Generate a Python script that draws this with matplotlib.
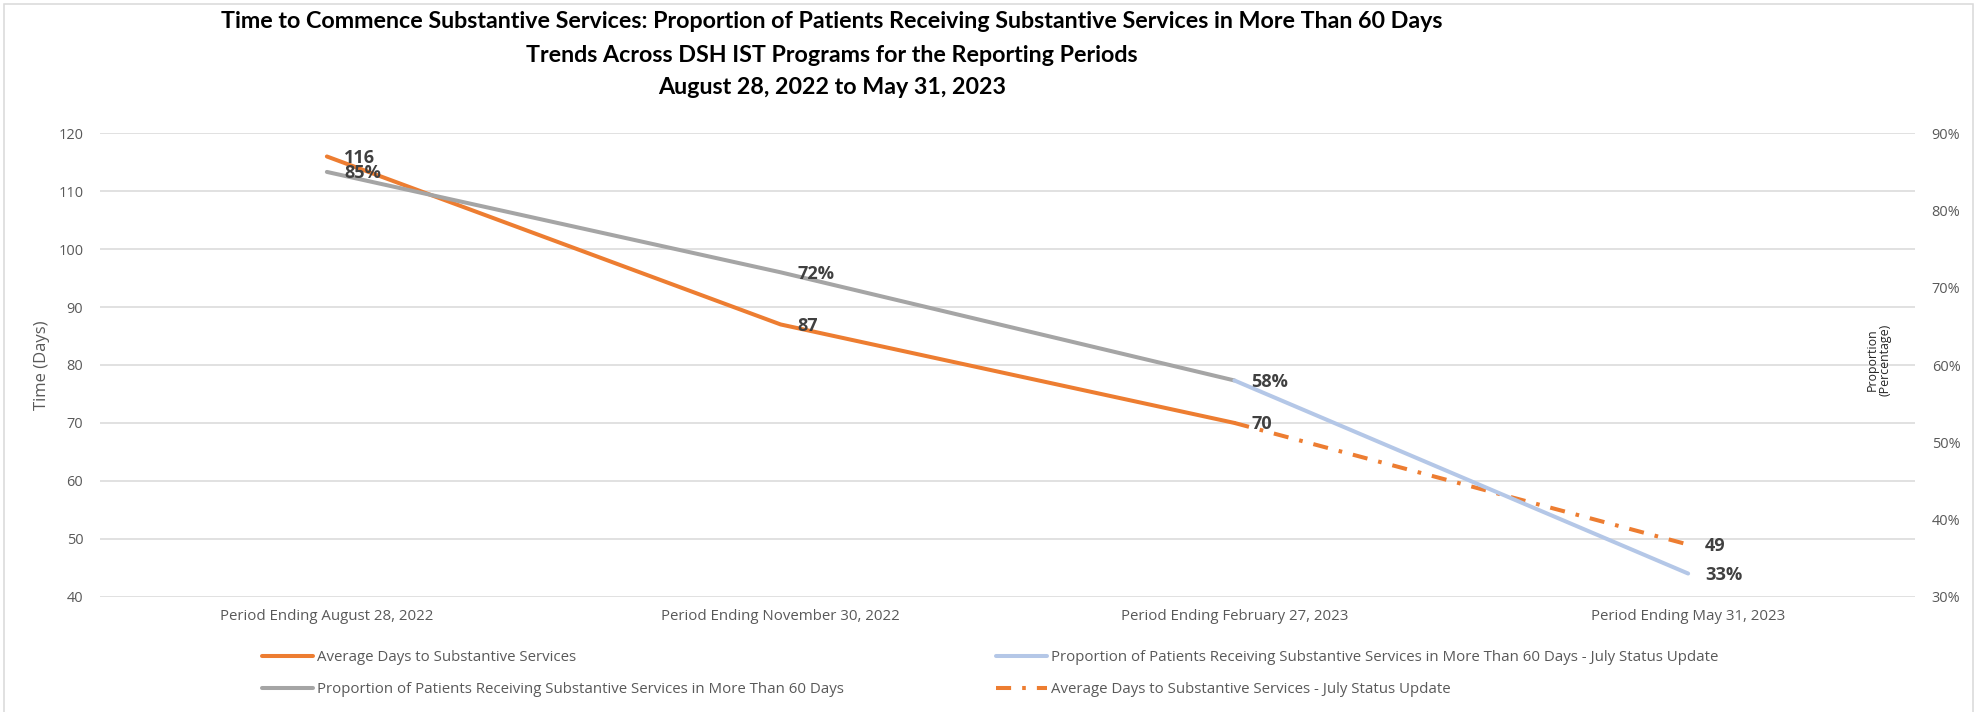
import matplotlib
matplotlib.use("Agg")
import matplotlib.pyplot as plt
from matplotlib.patches import Rectangle
from matplotlib.ticker import PercentFormatter

# ---------------- data ----------------
categories = ["Period Ending August 28, 2022", "Period Ending November 30, 2022",
              "Period Ending February 27, 2023", "Period Ending May 31, 2023"]
avg_days = [116, 87, 70]            # categories 0-2
avg_days_july = [70, 49]            # categories 2-3
prop_over_60 = [0.85, 0.72, 0.58]   # categories 0-2
prop_over_60_july = [0.58, 0.33]    # categories 2-3
days_ticks = [40, 50, 60, 70, 80, 90, 100, 110, 120]
prop_ticks = [0.30, 0.40, 0.50, 0.60, 0.70, 0.80, 0.90]
title_lines = ["Time to Commence Substantive Services: Proportion of Patients Receiving Substantive Services in More Than 60 Days",
               "Trends Across DSH IST Programs for the Reporting Periods",
               "August 28, 2022 to May 31, 2023"]
lbl_avg = "Average Days to Substantive Services"
lbl_prop = "Proportion of Patients Receiving Substantive Services in More Than 60 Days"
lbl_prop_july = "Proportion of Patients Receiving Substantive Services in More Than 60 Days - July Status Update"
lbl_avg_july = "Average Days to Substantive Services - July Status Update"

# ---------------- style ----------------
ORANGE = "#ED7D31"
GRAY = "#A5A5A5"
BLUE = "#B4C7E7"
GRID = "#D9D9D9"
TXT = "#595959"
LBL = "#404040"
FONT = "Open Sans"
TFONT = "Lato"

W, H = 1979, 712
fig = plt.figure(figsize=(W / 100, H / 100), dpi=100)
fig.patch.set_facecolor("white")
renderer = fig.canvas.get_renderer()


def fit_size(sample, target_px, family, weight="normal", base=10.0):
    t = fig.text(0, 0, sample, fontsize=base, fontfamily=family, fontweight=weight)
    w = t.get_window_extent(renderer).width
    t.remove()
    return base * target_px / w


FS_TICK = fit_size("120", 25, FONT)
FS_XLAB = fit_size(categories[0], 213, FONT)
FS_LEG = fit_size(lbl_avg, 260, FONT)
FS_YLAB = fit_size("Time (Days)", 90, FONT)
FS_Y2LAB = fit_size("(Percentage)", 72, FONT)
FS_DLAB = fit_size("116", 31, FONT, "bold")
FS_TITLE = fit_size(title_lines[1], 615, TFONT, "bold", base=16)

# chart border
fig.patches.append(Rectangle((4 / W, -0.05), (1973 - 4) / W, 1.05 - 4 / H,
                             transform=fig.transFigure, fill=False,
                             edgecolor=GRID, linewidth=1.1))

ax = fig.add_axes([100 / W, 1 - 596.7 / H, 1815 / W, (596.7 - 133.3) / H])
ax.set_xlim(-0.5, len(categories) - 0.5)
ax.set_ylim(days_ticks[0], days_ticks[-1])
ax.set_yticks(days_ticks)
ax.set_xticks(range(len(categories)))
ax.set_xticklabels(categories, fontfamily=FONT, fontsize=FS_XLAB)
ax.grid(axis="y", color=GRID, linewidth=1.1)
ax.set_axisbelow(True)
for s in ax.spines.values():
    s.set_visible(False)
ax.tick_params(axis="both", length=0, labelcolor=TXT)
ax.tick_params(axis="y", pad=12, labelsize=FS_TICK)
ax.tick_params(axis="x", pad=9)
for t in ax.get_yticklabels():
    t.set_fontfamily(FONT)

ax2 = ax.twinx()
ax2.set_ylim(prop_ticks[0], prop_ticks[-1])
ax2.set_yticks(prop_ticks)
ax2.yaxis.set_major_formatter(PercentFormatter(1.0, decimals=0))
for s in ax2.spines.values():
    s.set_visible(False)
ax2.tick_params(axis="y", length=0, labelsize=FS_TICK, labelcolor=TXT, pad=12)
for t in ax2.get_yticklabels():
    t.set_fontfamily(FONT)

LW = 2.9
x_main = list(range(len(avg_days)))
x_july = list(range(len(avg_days) - 1, len(categories)))

l_avg, = ax.plot(x_main, avg_days, color=ORANGE, lw=LW, solid_capstyle="round", zorder=3)
l_avg_j, = ax.plot(x_july, avg_days_july, color=ORANGE, lw=LW,
                   dashes=(3.75, 2.75, 0.9, 2.75), zorder=3)
l_prop, = ax2.plot(x_main, prop_over_60, color=GRAY, lw=LW, solid_capstyle="round", zorder=2)
l_prop_j, = ax2.plot(x_july, prop_over_60_july, color=BLUE, lw=LW, solid_capstyle="round", zorder=2)


def lab(a, x, y, s):
    a.annotate(s, (x, y), xytext=(12.3, -1), textcoords="offset points",
               ha="left", va="center", fontsize=FS_DLAB, fontweight="bold",
               color=LBL, fontfamily=FONT, zorder=5)


for x, v in zip(x_main, avg_days):
    lab(ax, x, v, f"{v}")
lab(ax, x_july[-1], avg_days_july[-1], f"{avg_days_july[-1]}")
for x, v in zip(x_main, prop_over_60):
    lab(ax2, x, v, f"{round(v * 100)}%")
lab(ax2, x_july[-1], prop_over_60_july[-1], f"{round(prop_over_60_july[-1] * 100)}%")

# axis titles
fig.text(42 / W, 1 - 365 / H, "Time (Days)", rotation=90, ha="center", va="center",
         fontsize=FS_YLAB, color=TXT, fontfamily=FONT)
fig.text(1879 / W, 1 - 360 / H, "Proportion\n(Percentage)", rotation=90, ha="center",
         va="center", fontsize=FS_Y2LAB, color="#262626", fontfamily=FONT, linespacing=1.0,
         multialignment="center")

# title
for line, yy in zip(title_lines, [21, 55, 88]):
    fig.text(832 / W, 1 - yy / H, line, ha="center", va="center", fontsize=FS_TITLE,
             fontweight="bold", color="black", fontfamily=TFONT)

# legends
leg_kw = dict(frameon=False, loc="center left", borderaxespad=0, borderpad=0,
              handlelength=51 / (FS_LEG * 100 / 72), handletextpad=4 / (FS_LEG * 100 / 72),
              labelspacing=1.15, prop={"family": FONT, "size": FS_LEG}, labelcolor=TXT)
leg1 = fig.legend([l_avg, l_prop], [lbl_avg, lbl_prop],
                  bbox_to_anchor=(262 / W, 1 - 673.5 / H), **leg_kw)
leg2 = fig.legend([l_prop_j, l_avg_j], [lbl_prop_july, lbl_avg_july],
                  bbox_to_anchor=(996 / W, 1 - 673.5 / H), **leg_kw)

fig.savefig("out.png", dpi=100)
